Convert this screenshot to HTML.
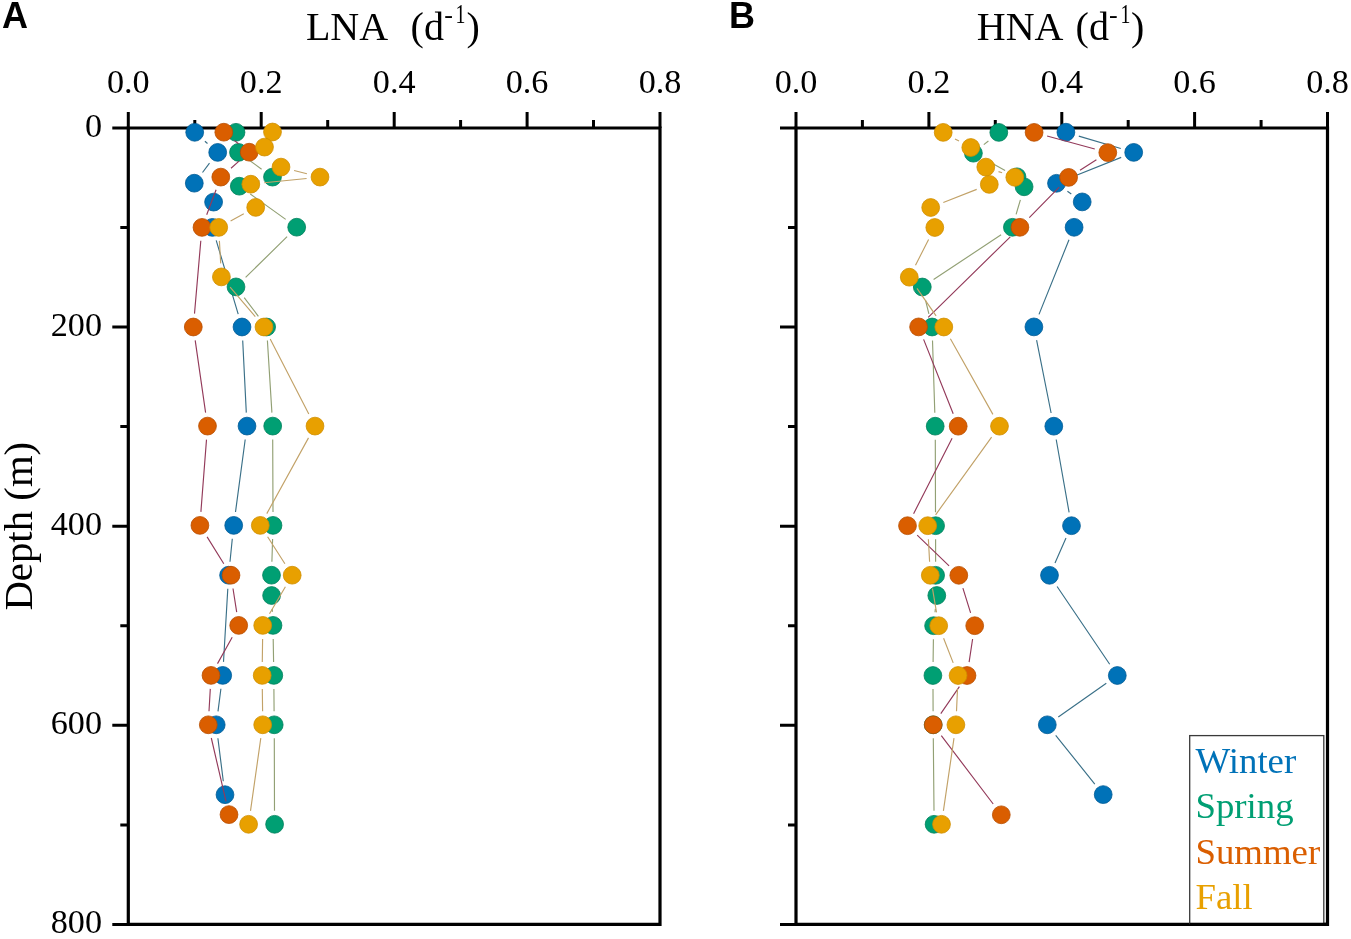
<!DOCTYPE html>
<html><head><meta charset="utf-8"><title>LNA HNA depth profiles</title>
<style>
html,body{margin:0;padding:0;background:#fff;}
body{width:1351px;height:939px;overflow:hidden;position:relative;}
svg{position:absolute;left:0;top:0;will-change:transform;}
.tk{font-family:"Liberation Serif",serif;font-size:34.2px;fill:#000;}
.tt{font-family:"Liberation Serif",serif;font-size:40px;fill:#000;}
.pl{font-family:"Liberation Sans",sans-serif;font-weight:bold;font-size:36px;fill:#000;}
.sp{font-family:"Liberation Serif",serif;font-size:26px;fill:#000;}
.lg{font-family:"Liberation Serif",serif;font-size:36.8px;}
</style></head>
<body>
<svg width="1351" height="939" viewBox="0 0 1351 939">
<rect width="1351" height="939" fill="#fff"/>
<text x="2.0" y="27.6" class="pl">A</text>
<text x="728.9" y="27.6" class="pl">B</text>
<text x="305.95" y="39.6" class="tt">LNA</text>
<text x="410.6" y="39.6" class="tt">(d</text>
<text x="444.3" y="22.9" class="sp">-</text>
<text transform="translate(455.4,22.9) scale(0.72,1)" class="sp" style="font-size:27.5px">1</text>
<text x="466.6" y="39.6" class="tt">)</text>
<text x="976.8" y="39.6" class="tt">HNA</text>
<text x="1075.6" y="39.6" class="tt">(d</text>
<text x="1109.1" y="22.9" class="sp">-</text>
<text transform="translate(1120.6,22.9) scale(0.72,1)" class="sp" style="font-size:27.5px">1</text>
<text x="1131.1" y="39.6" class="tt">)</text>
<text transform="translate(32,526.2) rotate(-90)" class="tt" style="font-size:40.8px" text-anchor="middle">Depth (m)</text>
<path d="M128.3 128.0H660.0V924.4H128.3Z" fill="none" stroke="#000" stroke-width="3.2" stroke-linejoin="miter"/>
<path d="M128.3 128.0V112.0M194.8 128.0V120.0M261.2 128.0V112.0M327.7 128.0V120.0M394.2 128.0V112.0M460.6 128.0V120.0M527.1 128.0V112.0M593.5 128.0V120.0M660.0 128.0V112.0M128.3 128.0H112.3M128.3 227.6H120.3M128.3 327.1H112.3M128.3 426.6H120.3M128.3 526.2H112.3M128.3 625.8H120.3M128.3 725.3H112.3M128.3 824.9H120.3M128.3 924.4H112.3" stroke="#000" stroke-width="3" fill="none"/>
<text x="128.3" y="93.1" class="tk" text-anchor="middle">0.0</text>
<text x="261.2" y="93.1" class="tk" text-anchor="middle">0.2</text>
<text x="394.2" y="93.1" class="tk" text-anchor="middle">0.4</text>
<text x="527.1" y="93.1" class="tk" text-anchor="middle">0.6</text>
<text x="660.0" y="93.1" class="tk" text-anchor="middle">0.8</text>
<text x="102.0" y="137.0" class="tk" text-anchor="end">0</text>
<text x="102.0" y="336.1" class="tk" text-anchor="end">200</text>
<text x="102.0" y="535.2" class="tk" text-anchor="end">400</text>
<text x="102.0" y="734.3" class="tk" text-anchor="end">600</text>
<text x="102.0" y="933.4" class="tk" text-anchor="end">800</text>
<path d="M796.0 128.0H1327.5V924.4H796.0Z" fill="none" stroke="#000" stroke-width="3.2" stroke-linejoin="miter"/>
<path d="M796.0 128.0V112.0M862.4 128.0V120.0M928.9 128.0V112.0M995.3 128.0V120.0M1061.8 128.0V112.0M1128.2 128.0V120.0M1194.6 128.0V112.0M1261.1 128.0V120.0M1327.5 128.0V112.0M796.0 128.0H780.0M796.0 227.6H788.0M796.0 327.1H780.0M796.0 426.6H788.0M796.0 526.2H780.0M796.0 625.8H788.0M796.0 725.3H780.0M796.0 824.9H788.0M796.0 924.4H780.0" stroke="#000" stroke-width="3" fill="none"/>
<text x="796.0" y="93.1" class="tk" text-anchor="middle">0.0</text>
<text x="928.9" y="93.1" class="tk" text-anchor="middle">0.2</text>
<text x="1061.8" y="93.1" class="tk" text-anchor="middle">0.4</text>
<text x="1194.6" y="93.1" class="tk" text-anchor="middle">0.6</text>
<text x="1327.5" y="93.1" class="tk" text-anchor="middle">0.8</text>
<path d="M204.9 141.2L207.5 143.5M209.5 163.1L202.5 172.5M216.2 240.3L238.2 314.1M242.7 340.5L246.3 412.6M245.2 439.5L235.5 512.0M232.3 538.8L230.0 561.8M227.8 588.7L223.5 661.9M220.9 688.8L218.0 711.4M217.9 738.2L223.3 781.3" stroke="#3a7088" stroke-width="1.15" fill="none"/>
<circle cx="194.7" cy="132.3" r="8.9" fill="#0072B8" stroke="#005a94" stroke-width="0.8"/>
<circle cx="217.7" cy="152.4" r="8.9" fill="#0072B8" stroke="#005a94" stroke-width="0.8"/>
<circle cx="194.3" cy="183.2" r="8.9" fill="#0072B8" stroke="#005a94" stroke-width="0.8"/>
<circle cx="213.6" cy="202.1" r="8.9" fill="#0072B8" stroke="#005a94" stroke-width="0.8"/>
<circle cx="212.4" cy="227.4" r="8.9" fill="#0072B8" stroke="#005a94" stroke-width="0.8"/>
<circle cx="242.0" cy="327.0" r="8.9" fill="#0072B8" stroke="#005a94" stroke-width="0.8"/>
<circle cx="247.0" cy="426.1" r="8.9" fill="#0072B8" stroke="#005a94" stroke-width="0.8"/>
<circle cx="233.7" cy="525.4" r="8.9" fill="#0072B8" stroke="#005a94" stroke-width="0.8"/>
<circle cx="228.6" cy="575.2" r="8.9" fill="#0072B8" stroke="#005a94" stroke-width="0.8"/>
<circle cx="222.7" cy="675.4" r="8.9" fill="#0072B8" stroke="#005a94" stroke-width="0.8"/>
<circle cx="216.2" cy="724.8" r="8.9" fill="#0072B8" stroke="#005a94" stroke-width="0.8"/>
<circle cx="225.0" cy="794.7" r="8.9" fill="#0072B8" stroke="#005a94" stroke-width="0.8"/>
<path d="M249.4 160.3L261.6 169.2M259.5 180.7L252.3 182.6M250.3 194.0L285.7 219.4M287.1 236.7L245.6 277.4M244.2 297.6L258.4 316.3M267.4 340.5L271.9 412.6M272.7 439.6L273.0 511.9M272.6 538.9L271.9 561.7M272.2 609.0L272.4 611.9M273.2 638.9L273.6 661.9M273.9 688.9L274.1 711.3M274.3 738.3L274.5 810.8" stroke="#92a074" stroke-width="1.15" fill="none"/>
<circle cx="236.0" cy="132.3" r="8.9" fill="#009F73" stroke="#00805c" stroke-width="0.8"/>
<circle cx="238.5" cy="152.4" r="8.9" fill="#009F73" stroke="#00805c" stroke-width="0.8"/>
<circle cx="272.5" cy="177.1" r="8.9" fill="#009F73" stroke="#00805c" stroke-width="0.8"/>
<circle cx="239.3" cy="186.2" r="8.9" fill="#009F73" stroke="#00805c" stroke-width="0.8"/>
<circle cx="296.7" cy="227.2" r="8.9" fill="#009F73" stroke="#00805c" stroke-width="0.8"/>
<circle cx="236.0" cy="286.9" r="8.9" fill="#009F73" stroke="#00805c" stroke-width="0.8"/>
<circle cx="266.6" cy="327.0" r="8.9" fill="#009F73" stroke="#00805c" stroke-width="0.8"/>
<circle cx="272.7" cy="426.1" r="8.9" fill="#009F73" stroke="#00805c" stroke-width="0.8"/>
<circle cx="273.0" cy="525.4" r="8.9" fill="#009F73" stroke="#00805c" stroke-width="0.8"/>
<circle cx="271.5" cy="575.2" r="8.9" fill="#009F73" stroke="#00805c" stroke-width="0.8"/>
<circle cx="271.6" cy="595.5" r="8.9" fill="#009F73" stroke="#00805c" stroke-width="0.8"/>
<circle cx="273.0" cy="625.4" r="8.9" fill="#009F73" stroke="#00805c" stroke-width="0.8"/>
<circle cx="273.8" cy="675.4" r="8.9" fill="#009F73" stroke="#00805c" stroke-width="0.8"/>
<circle cx="274.2" cy="724.8" r="8.9" fill="#009F73" stroke="#00805c" stroke-width="0.8"/>
<circle cx="274.6" cy="824.3" r="8.9" fill="#009F73" stroke="#00805c" stroke-width="0.8"/>
<path d="M234.4 140.6L238.6 143.8M239.0 161.1L231.0 168.2M216.1 189.7L206.7 214.8M200.8 240.8L194.5 313.6M195.2 340.4L205.6 412.7M206.5 439.6L200.9 511.9M207.1 536.9L223.8 563.7M233.0 588.5L236.7 612.1M232.2 637.2L217.5 663.6M210.3 688.9L209.0 711.3M211.3 738.0L226.0 801.4" stroke="#933a5a" stroke-width="1.15" fill="none"/>
<circle cx="223.8" cy="132.2" r="8.9" fill="#DA5E00" stroke="#b84e00" stroke-width="0.8"/>
<circle cx="249.2" cy="152.2" r="8.9" fill="#DA5E00" stroke="#b84e00" stroke-width="0.8"/>
<circle cx="220.8" cy="177.1" r="8.9" fill="#DA5E00" stroke="#b84e00" stroke-width="0.8"/>
<circle cx="202.0" cy="227.4" r="8.9" fill="#DA5E00" stroke="#b84e00" stroke-width="0.8"/>
<circle cx="193.3" cy="327.0" r="8.9" fill="#DA5E00" stroke="#b84e00" stroke-width="0.8"/>
<circle cx="207.5" cy="426.1" r="8.9" fill="#DA5E00" stroke="#b84e00" stroke-width="0.8"/>
<circle cx="199.9" cy="525.4" r="8.9" fill="#DA5E00" stroke="#b84e00" stroke-width="0.8"/>
<circle cx="231.0" cy="575.2" r="8.9" fill="#DA5E00" stroke="#b84e00" stroke-width="0.8"/>
<circle cx="238.7" cy="625.4" r="8.9" fill="#DA5E00" stroke="#b84e00" stroke-width="0.8"/>
<circle cx="211.0" cy="675.4" r="8.9" fill="#DA5E00" stroke="#b84e00" stroke-width="0.8"/>
<circle cx="208.3" cy="724.8" r="8.9" fill="#DA5E00" stroke="#b84e00" stroke-width="0.8"/>
<circle cx="229.0" cy="814.6" r="8.9" fill="#DA5E00" stroke="#b84e00" stroke-width="0.8"/>
<path d="M294.1 170.5L306.9 173.7M306.6 178.5L264.2 182.8M243.8 213.8L230.6 221.0M219.4 240.9L220.7 263.4M230.1 287.2L255.3 316.7M270.2 339.0L308.8 414.1M308.5 437.9L266.8 513.6M267.6 536.8L284.9 563.8M285.4 586.8L269.5 613.8M262.6 638.9L262.3 661.9M262.3 688.9L262.6 711.3M260.8 738.2L250.5 810.9" stroke="#c2a268" stroke-width="1.15" fill="none"/>
<circle cx="272.5" cy="132.0" r="8.9" fill="#E8A000" stroke="#cf8e00" stroke-width="0.8"/>
<circle cx="264.5" cy="147.1" r="8.9" fill="#E8A000" stroke="#cf8e00" stroke-width="0.8"/>
<circle cx="281.0" cy="167.1" r="8.9" fill="#E8A000" stroke="#cf8e00" stroke-width="0.8"/>
<circle cx="320.0" cy="177.1" r="8.9" fill="#E8A000" stroke="#cf8e00" stroke-width="0.8"/>
<circle cx="250.8" cy="184.2" r="8.9" fill="#E8A000" stroke="#cf8e00" stroke-width="0.8"/>
<circle cx="255.7" cy="207.4" r="8.9" fill="#E8A000" stroke="#cf8e00" stroke-width="0.8"/>
<circle cx="218.7" cy="227.4" r="8.9" fill="#E8A000" stroke="#cf8e00" stroke-width="0.8"/>
<circle cx="221.4" cy="276.9" r="8.9" fill="#E8A000" stroke="#cf8e00" stroke-width="0.8"/>
<circle cx="264.0" cy="327.0" r="8.9" fill="#E8A000" stroke="#cf8e00" stroke-width="0.8"/>
<circle cx="315.0" cy="426.1" r="8.9" fill="#E8A000" stroke="#cf8e00" stroke-width="0.8"/>
<circle cx="260.3" cy="525.4" r="8.9" fill="#E8A000" stroke="#cf8e00" stroke-width="0.8"/>
<circle cx="292.2" cy="575.2" r="8.9" fill="#E8A000" stroke="#cf8e00" stroke-width="0.8"/>
<circle cx="262.7" cy="625.4" r="8.9" fill="#E8A000" stroke="#cf8e00" stroke-width="0.8"/>
<circle cx="262.2" cy="675.4" r="8.9" fill="#E8A000" stroke="#cf8e00" stroke-width="0.8"/>
<circle cx="262.7" cy="724.8" r="8.9" fill="#E8A000" stroke="#cf8e00" stroke-width="0.8"/>
<circle cx="248.6" cy="824.3" r="8.9" fill="#E8A000" stroke="#cf8e00" stroke-width="0.8"/>
<path d="M1078.8 136.1L1120.8 148.5M1121.2 157.4L1069.0 178.3M1067.4 191.2L1071.3 194.0M1069.0 239.8L1039.0 314.4M1036.6 340.1L1051.1 413.0M1056.2 439.5L1069.1 512.4M1066.0 538.0L1055.0 563.0M1057.1 586.5L1109.7 664.3M1106.3 683.3L1058.3 717.0M1055.7 735.3L1094.8 784.1" stroke="#3a7088" stroke-width="1.15" fill="none"/>
<circle cx="1065.9" cy="132.2" r="8.9" fill="#0072B8" stroke="#005a94" stroke-width="0.8"/>
<circle cx="1133.7" cy="152.4" r="8.9" fill="#0072B8" stroke="#005a94" stroke-width="0.8"/>
<circle cx="1056.5" cy="183.3" r="8.9" fill="#0072B8" stroke="#005a94" stroke-width="0.8"/>
<circle cx="1082.2" cy="201.9" r="8.9" fill="#0072B8" stroke="#005a94" stroke-width="0.8"/>
<circle cx="1074.1" cy="227.3" r="8.9" fill="#0072B8" stroke="#005a94" stroke-width="0.8"/>
<circle cx="1033.9" cy="326.9" r="8.9" fill="#0072B8" stroke="#005a94" stroke-width="0.8"/>
<circle cx="1053.8" cy="426.2" r="8.9" fill="#0072B8" stroke="#005a94" stroke-width="0.8"/>
<circle cx="1071.5" cy="525.7" r="8.9" fill="#0072B8" stroke="#005a94" stroke-width="0.8"/>
<circle cx="1049.5" cy="575.3" r="8.9" fill="#0072B8" stroke="#005a94" stroke-width="0.8"/>
<circle cx="1117.3" cy="675.5" r="8.9" fill="#0072B8" stroke="#005a94" stroke-width="0.8"/>
<circle cx="1047.3" cy="724.8" r="8.9" fill="#0072B8" stroke="#005a94" stroke-width="0.8"/>
<circle cx="1103.2" cy="794.6" r="8.9" fill="#0072B8" stroke="#005a94" stroke-width="0.8"/>
<path d="M988.4 141.0L983.8 144.6M985.3 159.6L1005.1 170.4M1020.4 199.8L1016.1 214.3M1001.1 234.8L933.6 279.5M925.5 300.1L928.9 313.9M932.5 340.5L934.8 412.7M935.3 439.7L935.5 512.2M935.6 539.2L935.6 561.8M935.4 608.9L935.0 612.3M933.4 639.2L933.1 662.0M933.0 689.0L933.1 711.3M933.3 738.3L934.0 810.8" stroke="#92a074" stroke-width="1.15" fill="none"/>
<circle cx="998.8" cy="132.4" r="8.9" fill="#009F73" stroke="#00805c" stroke-width="0.8"/>
<circle cx="973.4" cy="153.2" r="8.9" fill="#009F73" stroke="#00805c" stroke-width="0.8"/>
<circle cx="1017.0" cy="176.8" r="8.9" fill="#009F73" stroke="#00805c" stroke-width="0.8"/>
<circle cx="1024.1" cy="186.8" r="8.9" fill="#009F73" stroke="#00805c" stroke-width="0.8"/>
<circle cx="1012.4" cy="227.3" r="8.9" fill="#009F73" stroke="#00805c" stroke-width="0.8"/>
<circle cx="922.3" cy="287.0" r="8.9" fill="#009F73" stroke="#00805c" stroke-width="0.8"/>
<circle cx="932.1" cy="327.0" r="8.9" fill="#009F73" stroke="#00805c" stroke-width="0.8"/>
<circle cx="935.2" cy="426.2" r="8.9" fill="#009F73" stroke="#00805c" stroke-width="0.8"/>
<circle cx="935.6" cy="525.7" r="8.9" fill="#009F73" stroke="#00805c" stroke-width="0.8"/>
<circle cx="935.6" cy="575.3" r="8.9" fill="#009F73" stroke="#00805c" stroke-width="0.8"/>
<circle cx="936.8" cy="595.5" r="8.9" fill="#009F73" stroke="#00805c" stroke-width="0.8"/>
<circle cx="933.6" cy="625.7" r="8.9" fill="#009F73" stroke="#00805c" stroke-width="0.8"/>
<circle cx="932.9" cy="675.5" r="8.9" fill="#009F73" stroke="#00805c" stroke-width="0.8"/>
<circle cx="933.2" cy="724.8" r="8.9" fill="#009F73" stroke="#00805c" stroke-width="0.8"/>
<circle cx="934.1" cy="824.3" r="8.9" fill="#009F73" stroke="#00805c" stroke-width="0.8"/>
<path d="M1047.1 136.0L1094.8 149.0M1096.4 159.8L1080.0 170.2M1059.2 187.1L1029.3 217.6M1010.3 236.8L928.2 317.4M923.6 339.4L953.2 413.7M952.1 438.2L913.6 513.7M917.2 535.1L949.1 565.9M962.9 588.2L970.6 612.8M972.6 639.0L969.1 662.2M959.4 686.6L940.8 713.7M941.3 735.6L993.2 804.0" stroke="#933a5a" stroke-width="1.15" fill="none"/>
<circle cx="1034.1" cy="132.4" r="8.9" fill="#DA5E00" stroke="#b84e00" stroke-width="0.8"/>
<circle cx="1107.8" cy="152.6" r="8.9" fill="#DA5E00" stroke="#b84e00" stroke-width="0.8"/>
<circle cx="1068.6" cy="177.4" r="8.9" fill="#DA5E00" stroke="#b84e00" stroke-width="0.8"/>
<circle cx="1019.9" cy="227.3" r="8.9" fill="#DA5E00" stroke="#b84e00" stroke-width="0.8"/>
<circle cx="918.6" cy="326.9" r="8.9" fill="#DA5E00" stroke="#b84e00" stroke-width="0.8"/>
<circle cx="958.2" cy="426.2" r="8.9" fill="#DA5E00" stroke="#b84e00" stroke-width="0.8"/>
<circle cx="907.5" cy="525.7" r="8.9" fill="#DA5E00" stroke="#b84e00" stroke-width="0.8"/>
<circle cx="958.8" cy="575.3" r="8.9" fill="#DA5E00" stroke="#b84e00" stroke-width="0.8"/>
<circle cx="974.7" cy="625.7" r="8.9" fill="#DA5E00" stroke="#b84e00" stroke-width="0.8"/>
<circle cx="967.0" cy="675.5" r="8.9" fill="#DA5E00" stroke="#b84e00" stroke-width="0.8"/>
<circle cx="933.2" cy="724.8" r="8.9" fill="#DA5E00" stroke="#b84e00" stroke-width="0.8"/>
<circle cx="1001.3" cy="814.8" r="8.9" fill="#DA5E00" stroke="#b84e00" stroke-width="0.8"/>
<path d="M955.0 138.9L959.0 141.0M998.5 171.6L1002.1 172.8M976.7 189.4L943.3 202.5M928.6 239.5L915.5 265.2M917.0 288.3L936.1 315.9M950.4 338.8L992.9 414.4M991.6 437.1L935.6 514.8M928.4 539.2L929.6 561.8M932.5 588.6L936.5 612.4M943.6 638.3L953.2 662.9M957.5 689.0L956.5 711.3M954.0 738.2L943.4 810.9" stroke="#c2a268" stroke-width="1.15" fill="none"/>
<circle cx="943.2" cy="132.4" r="8.9" fill="#E8A000" stroke="#cf8e00" stroke-width="0.8"/>
<circle cx="970.8" cy="147.5" r="8.9" fill="#E8A000" stroke="#cf8e00" stroke-width="0.8"/>
<circle cx="985.8" cy="167.1" r="8.9" fill="#E8A000" stroke="#cf8e00" stroke-width="0.8"/>
<circle cx="1014.8" cy="177.3" r="8.9" fill="#E8A000" stroke="#cf8e00" stroke-width="0.8"/>
<circle cx="989.3" cy="184.4" r="8.9" fill="#E8A000" stroke="#cf8e00" stroke-width="0.8"/>
<circle cx="930.7" cy="207.5" r="8.9" fill="#E8A000" stroke="#cf8e00" stroke-width="0.8"/>
<circle cx="934.8" cy="227.5" r="8.9" fill="#E8A000" stroke="#cf8e00" stroke-width="0.8"/>
<circle cx="909.3" cy="277.2" r="8.9" fill="#E8A000" stroke="#cf8e00" stroke-width="0.8"/>
<circle cx="943.8" cy="327.0" r="8.9" fill="#E8A000" stroke="#cf8e00" stroke-width="0.8"/>
<circle cx="999.5" cy="426.2" r="8.9" fill="#E8A000" stroke="#cf8e00" stroke-width="0.8"/>
<circle cx="927.7" cy="525.7" r="8.9" fill="#E8A000" stroke="#cf8e00" stroke-width="0.8"/>
<circle cx="930.3" cy="575.3" r="8.9" fill="#E8A000" stroke="#cf8e00" stroke-width="0.8"/>
<circle cx="938.7" cy="625.7" r="8.9" fill="#E8A000" stroke="#cf8e00" stroke-width="0.8"/>
<circle cx="958.1" cy="675.5" r="8.9" fill="#E8A000" stroke="#cf8e00" stroke-width="0.8"/>
<circle cx="955.9" cy="724.8" r="8.9" fill="#E8A000" stroke="#cf8e00" stroke-width="0.8"/>
<circle cx="941.5" cy="824.3" r="8.9" fill="#E8A000" stroke="#cf8e00" stroke-width="0.8"/>
<rect x="1189.7" y="735.6" width="134.1" height="188" fill="#fff" stroke="#3a3a3a" stroke-width="1.3"/>
<path d="M1189.7 924.4H1327.5" stroke="#000" stroke-width="3.2"/>
<text x="1195.5" y="773.2" class="lg" fill="#0072B8">Winter</text>
<text x="1195.5" y="818.3" class="lg" fill="#009F73">Spring</text>
<text x="1195.5" y="863.6" class="lg" fill="#DA5E00">Summer</text>
<text x="1195.5" y="908.9" class="lg" fill="#E8A000">Fall</text>
</svg>
</body></html>
